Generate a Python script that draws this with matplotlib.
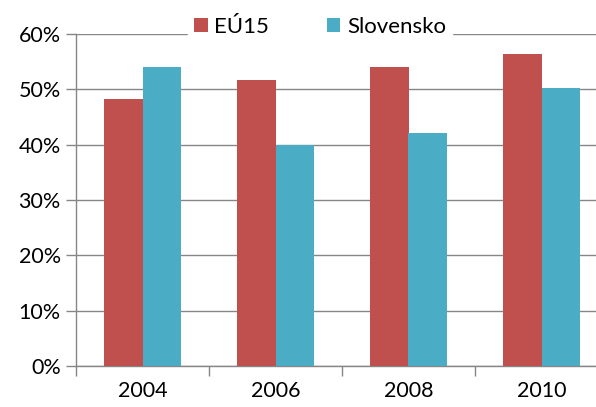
import matplotlib.pyplot as plt
import numpy as np
from matplotlib.ticker import FixedLocator, PercentFormatter

# data
years = ["2004", "2006", "2008", "2010"]
eu15 = [48.2, 51.6, 54.1, 56.3]
slovensko = [54.1, 40.0, 42.1, 50.3]

RED = "#C0504D"
BLUE = "#4BACC6"
GRID = "#868686"

plt.rcParams["font.family"] = ["Lato", "DejaVu Sans"]

fig = plt.figure(figsize=(5.96, 4.07), dpi=100)
ax = fig.add_axes([76 / 596, 41 / 407, 532 / 596, 332 / 407])

x = np.arange(len(years))
w = 0.286
ax.bar(x - w / 2, eu15, width=w, color=RED, label="EÚ15", zorder=3)
ax.bar(x + w / 2, slovensko, width=w, color=BLUE, label="Slovensko", zorder=3)

ax.set_xlim(-0.5, len(years) - 0.5)
ax.set_ylim(0, 60)
ax.set_yticks(np.arange(0, 61, 10))
ax.yaxis.set_major_formatter(PercentFormatter(decimals=0))
ax.yaxis.grid(True, color=GRID, linewidth=1.0, zorder=0)
ax.set_axisbelow(True)

ax.set_xticks(x)
ax.set_xticklabels(years)
ax.xaxis.set_minor_locator(FixedLocator(np.arange(-0.5, len(years), 1.0)))
ax.tick_params(axis="x", which="major", length=0, pad=11, labelsize=15.5)
ax.tick_params(axis="x", which="minor", length=7, color=GRID, width=1.0)
ax.tick_params(axis="y", length=7, color=GRID, width=1.0, labelsize=15.5, pad=4)

for side in ["top", "right"]:
    ax.spines[side].set_visible(False)
for side in ["left", "bottom"]:
    ax.spines[side].set_color(GRID)
    ax.spines[side].set_linewidth(1.0)

leg = fig.legend(
    loc="center", bbox_to_anchor=(320 / 596, 1 - 27 / 407),
    ncol=2, frameon=True, fontsize=16, handlelength=0.6, handleheight=0.6,
    handletextpad=0.3, columnspacing=2.6, borderpad=0.3, fancybox=False,
)
leg.get_frame().set_facecolor("white")
leg.get_frame().set_edgecolor("white")
leg.get_frame().set_alpha(1.0)

fig.savefig("out.png", dpi=100)
